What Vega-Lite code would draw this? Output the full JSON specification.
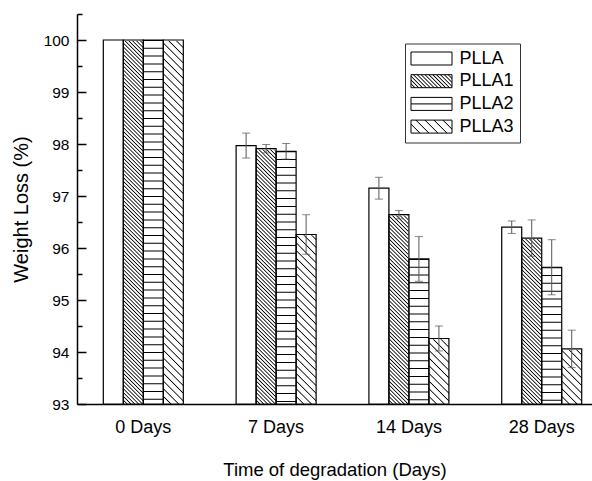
{
  "$schema": "https://vega.github.io/schema/vega-lite/v6.json",
  "width": 515,
  "height": 390,
  "autosize": {"type": "none"},
  "padding": {"left": 77, "top": 14, "right": 0, "bottom": 77},
  "background": "white",
  "config": {"view": {"stroke": null}, "font": "Liberation Sans"},
  "data": {"values": [
    {"day": "0 Days", "series": "PLLA", "value": 100},
    {"day": "0 Days", "series": "PLLA1", "value": 100},
    {"day": "0 Days", "series": "PLLA2", "value": 100},
    {"day": "0 Days", "series": "PLLA3", "value": 100},
    {"day": "7 Days", "series": "PLLA", "value": 97.97, "lo": 97.73, "hi": 98.21},
    {"day": "7 Days", "series": "PLLA1", "value": 97.91, "lo": 97.83, "hi": 97.99},
    {"day": "7 Days", "series": "PLLA2", "value": 97.86, "lo": 97.71, "hi": 98.01},
    {"day": "7 Days", "series": "PLLA3", "value": 96.26, "lo": 95.88, "hi": 96.64},
    {"day": "14 Days", "series": "PLLA", "value": 97.15, "lo": 96.94, "hi": 97.36},
    {"day": "14 Days", "series": "PLLA1", "value": 96.64, "lo": 96.56, "hi": 96.72},
    {"day": "14 Days", "series": "PLLA2", "value": 95.79, "lo": 95.36, "hi": 96.22},
    {"day": "14 Days", "series": "PLLA3", "value": 94.26, "lo": 94.02, "hi": 94.5},
    {"day": "28 Days", "series": "PLLA", "value": 96.4, "lo": 96.28, "hi": 96.52},
    {"day": "28 Days", "series": "PLLA1", "value": 96.19, "lo": 95.84, "hi": 96.54},
    {"day": "28 Days", "series": "PLLA2", "value": 95.63, "lo": 95.1, "hi": 96.16},
    {"day": "28 Days", "series": "PLLA3", "value": 94.06, "lo": 93.7, "hi": 94.42}
  ]},
  "encoding": {
    "x": {
      "field": "day", "type": "nominal",
      "sort": ["0 Days", "7 Days", "14 Days", "28 Days"],
      "scale": {"paddingInner": 0.3976, "paddingOuter": 0.1378, "align": 0.719},
      "axis": {"ticks": false, "domainColor": "#000", "domainWidth": 1.5, "labelAngle": 0, "labelFontSize": 18, "labelColor": "#000", "labelPadding": 14, "titleFontSize": 18.5, "titleFontWeight": "normal", "titleColor": "#000", "titlePadding": 24},
      "title": "Time of degradation (Days)"
    },
    "xOffset": {
      "field": "series", "type": "nominal",
      "sort": ["PLLA", "PLLA1", "PLLA2", "PLLA3"],
      "scale": {"paddingInner": 0, "paddingOuter": 0}
    }
  },
  "resolve": {"axis": {"y": "independent"}},
  "layer": [
    {
      "mark": {"type": "bar", "strokeWidth": 0},
      "encoding": {
        "y": {"datum": 100, "type": "quantitative", "scale": {"domain": [93, 100.5], "nice": false, "zero": false}, "axis": null},
        "y2": {"datum": 93},
        "fill": {
          "condition": [
            {"test": "datum.series === 'PLLA1'", "value":
            {"gradient": "linear", "x1": 0, "y1": 1, "x2": 0.0578, "y2": -0.0518, "stops": [
              {"offset":0.007,"color":"#fff"},{"offset":0.01,"color":"#000"},{"offset":0.013,"color":"#fff"},
              {"offset":0.017,"color":"#fff"},{"offset":0.02,"color":"#000"},{"offset":0.023,"color":"#fff"},
              {"offset":0.027,"color":"#fff"},{"offset":0.03,"color":"#000"},{"offset":0.033,"color":"#fff"},
              {"offset":0.037,"color":"#fff"},{"offset":0.04,"color":"#000"},{"offset":0.043,"color":"#fff"},
              {"offset":0.047,"color":"#fff"},{"offset":0.05,"color":"#000"},{"offset":0.053,"color":"#fff"},
              {"offset":0.057,"color":"#fff"},{"offset":0.06,"color":"#000"},{"offset":0.063,"color":"#fff"},
              {"offset":0.067,"color":"#fff"},{"offset":0.07,"color":"#000"},{"offset":0.073,"color":"#fff"},
              {"offset":0.077,"color":"#fff"},{"offset":0.08,"color":"#000"},{"offset":0.083,"color":"#fff"},
              {"offset":0.087,"color":"#fff"},{"offset":0.09,"color":"#000"},{"offset":0.093,"color":"#fff"},
              {"offset":0.097,"color":"#fff"},{"offset":0.1,"color":"#000"},{"offset":0.103,"color":"#fff"},
              {"offset":0.107,"color":"#fff"},{"offset":0.11,"color":"#000"},{"offset":0.113,"color":"#fff"},
              {"offset":0.117,"color":"#fff"},{"offset":0.12,"color":"#000"},{"offset":0.123,"color":"#fff"},
              {"offset":0.127,"color":"#fff"},{"offset":0.13,"color":"#000"},{"offset":0.133,"color":"#fff"},
              {"offset":0.137,"color":"#fff"},{"offset":0.14,"color":"#000"},{"offset":0.143,"color":"#fff"},
              {"offset":0.147,"color":"#fff"},{"offset":0.15,"color":"#000"},{"offset":0.153,"color":"#fff"},
              {"offset":0.157,"color":"#fff"},{"offset":0.16,"color":"#000"},{"offset":0.163,"color":"#fff"},
              {"offset":0.167,"color":"#fff"},{"offset":0.17,"color":"#000"},{"offset":0.173,"color":"#fff"},
              {"offset":0.177,"color":"#fff"},{"offset":0.18,"color":"#000"},{"offset":0.183,"color":"#fff"},
              {"offset":0.187,"color":"#fff"},{"offset":0.19,"color":"#000"},{"offset":0.193,"color":"#fff"},
              {"offset":0.197,"color":"#fff"},{"offset":0.2,"color":"#000"},{"offset":0.203,"color":"#fff"},
              {"offset":0.207,"color":"#fff"},{"offset":0.21,"color":"#000"},{"offset":0.213,"color":"#fff"},
              {"offset":0.217,"color":"#fff"},{"offset":0.22,"color":"#000"},{"offset":0.223,"color":"#fff"},
              {"offset":0.227,"color":"#fff"},{"offset":0.23,"color":"#000"},{"offset":0.233,"color":"#fff"},
              {"offset":0.237,"color":"#fff"},{"offset":0.24,"color":"#000"},{"offset":0.243,"color":"#fff"},
              {"offset":0.247,"color":"#fff"},{"offset":0.25,"color":"#000"},{"offset":0.253,"color":"#fff"},
              {"offset":0.257,"color":"#fff"},{"offset":0.26,"color":"#000"},{"offset":0.263,"color":"#fff"},
              {"offset":0.267,"color":"#fff"},{"offset":0.27,"color":"#000"},{"offset":0.273,"color":"#fff"},
              {"offset":0.277,"color":"#fff"},{"offset":0.28,"color":"#000"},{"offset":0.283,"color":"#fff"},
              {"offset":0.287,"color":"#fff"},{"offset":0.29,"color":"#000"},{"offset":0.293,"color":"#fff"},
              {"offset":0.297,"color":"#fff"},{"offset":0.3,"color":"#000"},{"offset":0.303,"color":"#fff"},
              {"offset":0.307,"color":"#fff"},{"offset":0.31,"color":"#000"},{"offset":0.313,"color":"#fff"},
              {"offset":0.317,"color":"#fff"},{"offset":0.32,"color":"#000"},{"offset":0.323,"color":"#fff"},
              {"offset":0.327,"color":"#fff"},{"offset":0.33,"color":"#000"},{"offset":0.333,"color":"#fff"},
              {"offset":0.337,"color":"#fff"},{"offset":0.34,"color":"#000"},{"offset":0.343,"color":"#fff"},
              {"offset":0.347,"color":"#fff"},{"offset":0.35,"color":"#000"},{"offset":0.353,"color":"#fff"},
              {"offset":0.357,"color":"#fff"},{"offset":0.36,"color":"#000"},{"offset":0.363,"color":"#fff"},
              {"offset":0.367,"color":"#fff"},{"offset":0.37,"color":"#000"},{"offset":0.373,"color":"#fff"},
              {"offset":0.377,"color":"#fff"},{"offset":0.38,"color":"#000"},{"offset":0.383,"color":"#fff"},
              {"offset":0.387,"color":"#fff"},{"offset":0.39,"color":"#000"},{"offset":0.393,"color":"#fff"},
              {"offset":0.397,"color":"#fff"},{"offset":0.4,"color":"#000"},{"offset":0.403,"color":"#fff"},
              {"offset":0.407,"color":"#fff"},{"offset":0.41,"color":"#000"},{"offset":0.413,"color":"#fff"},
              {"offset":0.417,"color":"#fff"},{"offset":0.42,"color":"#000"},{"offset":0.423,"color":"#fff"},
              {"offset":0.427,"color":"#fff"},{"offset":0.43,"color":"#000"},{"offset":0.433,"color":"#fff"},
              {"offset":0.437,"color":"#fff"},{"offset":0.44,"color":"#000"},{"offset":0.443,"color":"#fff"},
              {"offset":0.447,"color":"#fff"},{"offset":0.45,"color":"#000"},{"offset":0.453,"color":"#fff"},
              {"offset":0.457,"color":"#fff"},{"offset":0.46,"color":"#000"},{"offset":0.463,"color":"#fff"},
              {"offset":0.467,"color":"#fff"},{"offset":0.47,"color":"#000"},{"offset":0.473,"color":"#fff"},
              {"offset":0.477,"color":"#fff"},{"offset":0.48,"color":"#000"},{"offset":0.483,"color":"#fff"},
              {"offset":0.487,"color":"#fff"},{"offset":0.49,"color":"#000"},{"offset":0.493,"color":"#fff"},
              {"offset":0.497,"color":"#fff"},{"offset":0.5,"color":"#000"},{"offset":0.503,"color":"#fff"},
              {"offset":0.507,"color":"#fff"},{"offset":0.51,"color":"#000"},{"offset":0.513,"color":"#fff"},
              {"offset":0.517,"color":"#fff"},{"offset":0.52,"color":"#000"},{"offset":0.523,"color":"#fff"},
              {"offset":0.527,"color":"#fff"},{"offset":0.53,"color":"#000"},{"offset":0.533,"color":"#fff"},
              {"offset":0.537,"color":"#fff"},{"offset":0.54,"color":"#000"},{"offset":0.543,"color":"#fff"},
              {"offset":0.547,"color":"#fff"},{"offset":0.55,"color":"#000"},{"offset":0.553,"color":"#fff"},
              {"offset":0.557,"color":"#fff"},{"offset":0.56,"color":"#000"},{"offset":0.563,"color":"#fff"},
              {"offset":0.567,"color":"#fff"},{"offset":0.57,"color":"#000"},{"offset":0.573,"color":"#fff"},
              {"offset":0.577,"color":"#fff"},{"offset":0.58,"color":"#000"},{"offset":0.583,"color":"#fff"},
              {"offset":0.587,"color":"#fff"},{"offset":0.59,"color":"#000"},{"offset":0.593,"color":"#fff"},
              {"offset":0.597,"color":"#fff"},{"offset":0.6,"color":"#000"},{"offset":0.603,"color":"#fff"},
              {"offset":0.607,"color":"#fff"},{"offset":0.61,"color":"#000"},{"offset":0.613,"color":"#fff"},
              {"offset":0.617,"color":"#fff"},{"offset":0.62,"color":"#000"},{"offset":0.623,"color":"#fff"},
              {"offset":0.627,"color":"#fff"},{"offset":0.63,"color":"#000"},{"offset":0.633,"color":"#fff"},
              {"offset":0.637,"color":"#fff"},{"offset":0.64,"color":"#000"},{"offset":0.643,"color":"#fff"},
              {"offset":0.647,"color":"#fff"},{"offset":0.65,"color":"#000"},{"offset":0.653,"color":"#fff"},
              {"offset":0.657,"color":"#fff"},{"offset":0.66,"color":"#000"},{"offset":0.663,"color":"#fff"},
              {"offset":0.667,"color":"#fff"},{"offset":0.67,"color":"#000"},{"offset":0.673,"color":"#fff"},
              {"offset":0.677,"color":"#fff"},{"offset":0.68,"color":"#000"},{"offset":0.683,"color":"#fff"},
              {"offset":0.687,"color":"#fff"},{"offset":0.69,"color":"#000"},{"offset":0.693,"color":"#fff"},
              {"offset":0.697,"color":"#fff"},{"offset":0.7,"color":"#000"},{"offset":0.703,"color":"#fff"},
              {"offset":0.707,"color":"#fff"},{"offset":0.71,"color":"#000"},{"offset":0.713,"color":"#fff"},
              {"offset":0.717,"color":"#fff"},{"offset":0.72,"color":"#000"},{"offset":0.723,"color":"#fff"},
              {"offset":0.727,"color":"#fff"},{"offset":0.73,"color":"#000"},{"offset":0.733,"color":"#fff"},
              {"offset":0.737,"color":"#fff"},{"offset":0.74,"color":"#000"},{"offset":0.743,"color":"#fff"},
              {"offset":0.747,"color":"#fff"},{"offset":0.75,"color":"#000"},{"offset":0.753,"color":"#fff"},
              {"offset":0.757,"color":"#fff"},{"offset":0.76,"color":"#000"},{"offset":0.763,"color":"#fff"},
              {"offset":0.767,"color":"#fff"},{"offset":0.77,"color":"#000"},{"offset":0.773,"color":"#fff"},
              {"offset":0.777,"color":"#fff"},{"offset":0.78,"color":"#000"},{"offset":0.783,"color":"#fff"},
              {"offset":0.787,"color":"#fff"},{"offset":0.79,"color":"#000"},{"offset":0.793,"color":"#fff"},
              {"offset":0.797,"color":"#fff"},{"offset":0.8,"color":"#000"},{"offset":0.803,"color":"#fff"},
              {"offset":0.807,"color":"#fff"},{"offset":0.81,"color":"#000"},{"offset":0.813,"color":"#fff"},
              {"offset":0.817,"color":"#fff"},{"offset":0.82,"color":"#000"},{"offset":0.823,"color":"#fff"},
              {"offset":0.827,"color":"#fff"},{"offset":0.83,"color":"#000"},{"offset":0.833,"color":"#fff"},
              {"offset":0.837,"color":"#fff"},{"offset":0.84,"color":"#000"},{"offset":0.843,"color":"#fff"},
              {"offset":0.847,"color":"#fff"},{"offset":0.85,"color":"#000"},{"offset":0.853,"color":"#fff"},
              {"offset":0.857,"color":"#fff"},{"offset":0.86,"color":"#000"},{"offset":0.863,"color":"#fff"},
              {"offset":0.867,"color":"#fff"},{"offset":0.87,"color":"#000"},{"offset":0.873,"color":"#fff"},
              {"offset":0.877,"color":"#fff"},{"offset":0.88,"color":"#000"},{"offset":0.883,"color":"#fff"},
              {"offset":0.887,"color":"#fff"},{"offset":0.89,"color":"#000"},{"offset":0.893,"color":"#fff"},
              {"offset":0.897,"color":"#fff"},{"offset":0.9,"color":"#000"},{"offset":0.903,"color":"#fff"},
              {"offset":0.907,"color":"#fff"},{"offset":0.91,"color":"#000"},{"offset":0.913,"color":"#fff"},
              {"offset":0.917,"color":"#fff"},{"offset":0.92,"color":"#000"},{"offset":0.923,"color":"#fff"},
              {"offset":0.927,"color":"#fff"},{"offset":0.93,"color":"#000"},{"offset":0.933,"color":"#fff"},
              {"offset":0.937,"color":"#fff"},{"offset":0.94,"color":"#000"},{"offset":0.943,"color":"#fff"},
              {"offset":0.947,"color":"#fff"},{"offset":0.95,"color":"#000"},{"offset":0.953,"color":"#fff"},
              {"offset":0.957,"color":"#fff"},{"offset":0.96,"color":"#000"},{"offset":0.963,"color":"#fff"},
              {"offset":0.967,"color":"#fff"},{"offset":0.97,"color":"#000"},{"offset":0.973,"color":"#fff"},
              {"offset":0.977,"color":"#fff"},{"offset":0.98,"color":"#000"},{"offset":0.983,"color":"#fff"},
              {"offset":0.987,"color":"#fff"},{"offset":0.99,"color":"#000"},{"offset":0.993,"color":"#fff"}
            ]}},
            {"test": "datum.series === 'PLLA3'", "value":
            {"gradient": "linear", "x1": 0, "y1": 1, "x2": 0.0578, "y2": -0.0518, "stops": [
              {"offset":0.017,"color":"#fff"},{"offset":0.02,"color":"#000"},{"offset":0.023,"color":"#fff"},
              {"offset":0.037,"color":"#fff"},{"offset":0.04,"color":"#000"},{"offset":0.043,"color":"#fff"},
              {"offset":0.057,"color":"#fff"},{"offset":0.06,"color":"#000"},{"offset":0.063,"color":"#fff"},
              {"offset":0.077,"color":"#fff"},{"offset":0.08,"color":"#000"},{"offset":0.083,"color":"#fff"},
              {"offset":0.097,"color":"#fff"},{"offset":0.1,"color":"#000"},{"offset":0.103,"color":"#fff"},
              {"offset":0.117,"color":"#fff"},{"offset":0.12,"color":"#000"},{"offset":0.123,"color":"#fff"},
              {"offset":0.137,"color":"#fff"},{"offset":0.14,"color":"#000"},{"offset":0.143,"color":"#fff"},
              {"offset":0.157,"color":"#fff"},{"offset":0.16,"color":"#000"},{"offset":0.163,"color":"#fff"},
              {"offset":0.177,"color":"#fff"},{"offset":0.18,"color":"#000"},{"offset":0.183,"color":"#fff"},
              {"offset":0.197,"color":"#fff"},{"offset":0.2,"color":"#000"},{"offset":0.203,"color":"#fff"},
              {"offset":0.217,"color":"#fff"},{"offset":0.22,"color":"#000"},{"offset":0.223,"color":"#fff"},
              {"offset":0.237,"color":"#fff"},{"offset":0.24,"color":"#000"},{"offset":0.243,"color":"#fff"},
              {"offset":0.257,"color":"#fff"},{"offset":0.26,"color":"#000"},{"offset":0.263,"color":"#fff"},
              {"offset":0.277,"color":"#fff"},{"offset":0.28,"color":"#000"},{"offset":0.283,"color":"#fff"},
              {"offset":0.297,"color":"#fff"},{"offset":0.3,"color":"#000"},{"offset":0.303,"color":"#fff"},
              {"offset":0.317,"color":"#fff"},{"offset":0.32,"color":"#000"},{"offset":0.323,"color":"#fff"},
              {"offset":0.337,"color":"#fff"},{"offset":0.34,"color":"#000"},{"offset":0.343,"color":"#fff"},
              {"offset":0.357,"color":"#fff"},{"offset":0.36,"color":"#000"},{"offset":0.363,"color":"#fff"},
              {"offset":0.377,"color":"#fff"},{"offset":0.38,"color":"#000"},{"offset":0.383,"color":"#fff"},
              {"offset":0.397,"color":"#fff"},{"offset":0.4,"color":"#000"},{"offset":0.403,"color":"#fff"},
              {"offset":0.417,"color":"#fff"},{"offset":0.42,"color":"#000"},{"offset":0.423,"color":"#fff"},
              {"offset":0.437,"color":"#fff"},{"offset":0.44,"color":"#000"},{"offset":0.443,"color":"#fff"},
              {"offset":0.457,"color":"#fff"},{"offset":0.46,"color":"#000"},{"offset":0.463,"color":"#fff"},
              {"offset":0.477,"color":"#fff"},{"offset":0.48,"color":"#000"},{"offset":0.483,"color":"#fff"},
              {"offset":0.497,"color":"#fff"},{"offset":0.5,"color":"#000"},{"offset":0.503,"color":"#fff"},
              {"offset":0.517,"color":"#fff"},{"offset":0.52,"color":"#000"},{"offset":0.523,"color":"#fff"},
              {"offset":0.537,"color":"#fff"},{"offset":0.54,"color":"#000"},{"offset":0.543,"color":"#fff"},
              {"offset":0.557,"color":"#fff"},{"offset":0.56,"color":"#000"},{"offset":0.563,"color":"#fff"},
              {"offset":0.577,"color":"#fff"},{"offset":0.58,"color":"#000"},{"offset":0.583,"color":"#fff"},
              {"offset":0.597,"color":"#fff"},{"offset":0.6,"color":"#000"},{"offset":0.603,"color":"#fff"},
              {"offset":0.617,"color":"#fff"},{"offset":0.62,"color":"#000"},{"offset":0.623,"color":"#fff"},
              {"offset":0.637,"color":"#fff"},{"offset":0.64,"color":"#000"},{"offset":0.643,"color":"#fff"},
              {"offset":0.657,"color":"#fff"},{"offset":0.66,"color":"#000"},{"offset":0.663,"color":"#fff"},
              {"offset":0.677,"color":"#fff"},{"offset":0.68,"color":"#000"},{"offset":0.683,"color":"#fff"},
              {"offset":0.697,"color":"#fff"},{"offset":0.7,"color":"#000"},{"offset":0.703,"color":"#fff"},
              {"offset":0.717,"color":"#fff"},{"offset":0.72,"color":"#000"},{"offset":0.723,"color":"#fff"},
              {"offset":0.737,"color":"#fff"},{"offset":0.74,"color":"#000"},{"offset":0.743,"color":"#fff"},
              {"offset":0.757,"color":"#fff"},{"offset":0.76,"color":"#000"},{"offset":0.763,"color":"#fff"},
              {"offset":0.777,"color":"#fff"},{"offset":0.78,"color":"#000"},{"offset":0.783,"color":"#fff"},
              {"offset":0.797,"color":"#fff"},{"offset":0.8,"color":"#000"},{"offset":0.803,"color":"#fff"},
              {"offset":0.817,"color":"#fff"},{"offset":0.82,"color":"#000"},{"offset":0.823,"color":"#fff"},
              {"offset":0.837,"color":"#fff"},{"offset":0.84,"color":"#000"},{"offset":0.843,"color":"#fff"},
              {"offset":0.857,"color":"#fff"},{"offset":0.86,"color":"#000"},{"offset":0.863,"color":"#fff"},
              {"offset":0.877,"color":"#fff"},{"offset":0.88,"color":"#000"},{"offset":0.883,"color":"#fff"},
              {"offset":0.897,"color":"#fff"},{"offset":0.9,"color":"#000"},{"offset":0.903,"color":"#fff"},
              {"offset":0.917,"color":"#fff"},{"offset":0.92,"color":"#000"},{"offset":0.923,"color":"#fff"},
              {"offset":0.937,"color":"#fff"},{"offset":0.94,"color":"#000"},{"offset":0.943,"color":"#fff"},
              {"offset":0.957,"color":"#fff"},{"offset":0.96,"color":"#000"},{"offset":0.963,"color":"#fff"},
              {"offset":0.977,"color":"#fff"},{"offset":0.98,"color":"#000"},{"offset":0.983,"color":"#fff"}
            ]}}
          ],
          "value": "#ffffff"
        }
      }
    },
    {
      "mark": {"type": "bar", "fill": "white", "stroke": "white", "strokeWidth": 1.6},
      "encoding": {
        "y": {"field": "value", "type": "quantitative", "scale": {"domain": [93, 100.5], "nice": false, "zero": false}, "axis": null},
        "y2": {"datum": 100}
      }
    },
    {
      "transform": [{"filter": "datum.series === 'PLLA2'"}],
      "mark": {"type": "rule", "color": "#000", "strokeWidth": 20, "strokeDash": [1, 6.8], "strokeCap": "butt"},
      "encoding": {
        "y": {"field": "value", "type": "quantitative", "scale": {"domain": [93, 100.5], "nice": false, "zero": false}, "axis": null},
        "y2": {"datum": 93}
      }
    },
    {
      "mark": {"type": "bar", "fillOpacity": 0, "stroke": "#000", "strokeWidth": 1.2},
      "encoding": {
        "y": {
          "field": "value", "type": "quantitative",
          "scale": {"domain": [93, 100.5], "nice": false, "zero": false},
          "title": "Weight Loss (%)",
          "axis": {
            "orient": "left",
            "values": [93, 93.5, 94, 94.5, 95, 95.5, 96, 96.5, 97, 97.5, 98, 98.5, 99, 99.5, 100, 100.5],
            "labelExpr": "datum.value % 1 === 0 ? format(datum.value, 'd') : ''",
            "tickSize": {"condition": {"test": "datum.value % 1 === 0", "value": -9}, "value": -5},
            "tickColor": "#000", "tickWidth": 1.5,
            "domainColor": "#000", "domainWidth": 1.5,
            "grid": false,
            "labelFontSize": 15.5, "labelColor": "#000", "labelPadding": 17,
            "titleFontSize": 20, "titleFontWeight": "normal", "titleColor": "#000", "titlePadding": 12
          }
        },
        "y2": {"datum": 93}
      }
    },
    {
      "mark": {"type": "bar"},
      "encoding": {
        "y": {"datum": 93, "type": "quantitative", "scale": {"domain": [93, 100.5], "nice": false, "zero": false}, "axis": null},
        "y2": {"datum": 93},
        "fill": {
          "field": "series", "type": "nominal",
          "sort": ["PLLA", "PLLA1", "PLLA2", "PLLA3"],
          "scale": {"range": [
            "#ffffff",
            {"expr": "{gradient:'linear',x1:0,y1:1,x2:1.1968,y2:0.6205,stops:[{offset:0.049,color:'#fff'},{offset:0.0714,color:'#000'},{offset:0.094,color:'#fff'},{offset:0.121,color:'#fff'},{offset:0.1429,color:'#000'},{offset:0.165,color:'#fff'},{offset:0.192,color:'#fff'},{offset:0.2143,color:'#000'},{offset:0.236,color:'#fff'},{offset:0.264,color:'#fff'},{offset:0.2857,color:'#000'},{offset:0.308,color:'#fff'},{offset:0.335,color:'#fff'},{offset:0.3571,color:'#000'},{offset:0.379,color:'#fff'},{offset:0.407,color:'#fff'},{offset:0.4286,color:'#000'},{offset:0.451,color:'#fff'},{offset:0.478,color:'#fff'},{offset:0.5,color:'#000'},{offset:0.522,color:'#fff'},{offset:0.549,color:'#fff'},{offset:0.5714,color:'#000'},{offset:0.594,color:'#fff'},{offset:0.621,color:'#fff'},{offset:0.6429,color:'#000'},{offset:0.665,color:'#fff'},{offset:0.692,color:'#fff'},{offset:0.7143,color:'#000'},{offset:0.736,color:'#fff'},{offset:0.764,color:'#fff'},{offset:0.7857,color:'#000'},{offset:0.808,color:'#fff'},{offset:0.835,color:'#fff'},{offset:0.8571,color:'#000'},{offset:0.879,color:'#fff'},{offset:0.907,color:'#fff'},{offset:0.9286,color:'#000'},{offset:0.951,color:'#fff'}]}"},
            {"expr": "{gradient:'linear',x1:0,y1:0,x2:0,y2:1,stops:[{offset:0.42,color:'#fff'},{offset:0.5,color:'#000'},{offset:0.58,color:'#fff'}]}"},
            {"expr": "{gradient:'linear',x1:0,y1:1,x2:1.1968,y2:0.6205,stops:[{offset:0.147,color:'#fff'},{offset:0.1667,color:'#000'},{offset:0.187,color:'#fff'},{offset:0.313,color:'#fff'},{offset:0.3333,color:'#000'},{offset:0.353,color:'#fff'},{offset:0.48,color:'#fff'},{offset:0.5,color:'#000'},{offset:0.52,color:'#fff'},{offset:0.647,color:'#fff'},{offset:0.6667,color:'#000'},{offset:0.687,color:'#fff'},{offset:0.813,color:'#fff'},{offset:0.8333,color:'#000'},{offset:0.853,color:'#fff'}]}"}
          ]},
          "legend": {
            "title": null,
            "orient": "none",
            "legendX": 328,
            "legendY": 29.5,
            "symbolType": "M-3.154,-1H3.154V1H-3.154Z",
            "symbolSize": 169,
            "symbolOffset": 11.5,
            "symbolStrokeColor": "#000",
            "symbolStrokeWidth": 1,
            "labelFontSize": 18,
            "labelColor": "#000",
            "labelOffset": 19,
            "rowPadding": 4.7,
            "padding": 6,
            "strokeColor": "#333",
            "fillColor": "white"
          }
        }
      }
    },
    {
      "mark": {"type": "rule", "color": "#555", "strokeWidth": 1},
      "encoding": {
        "y": {"field": "lo", "type": "quantitative", "scale": {"domain": [93, 100.5], "nice": false, "zero": false}, "axis": null},
        "y2": {"field": "hi"}
      }
    },
    {
      "mark": {"type": "tick", "color": "#555", "size": 8, "thickness": 1},
      "encoding": {
        "y": {"field": "lo", "type": "quantitative", "scale": {"domain": [93, 100.5], "nice": false, "zero": false}, "axis": null}
      }
    },
    {
      "mark": {"type": "tick", "color": "#555", "size": 8, "thickness": 1},
      "encoding": {
        "y": {"field": "hi", "type": "quantitative", "scale": {"domain": [93, 100.5], "nice": false, "zero": false}, "axis": null}
      }
    }
  ]
}
